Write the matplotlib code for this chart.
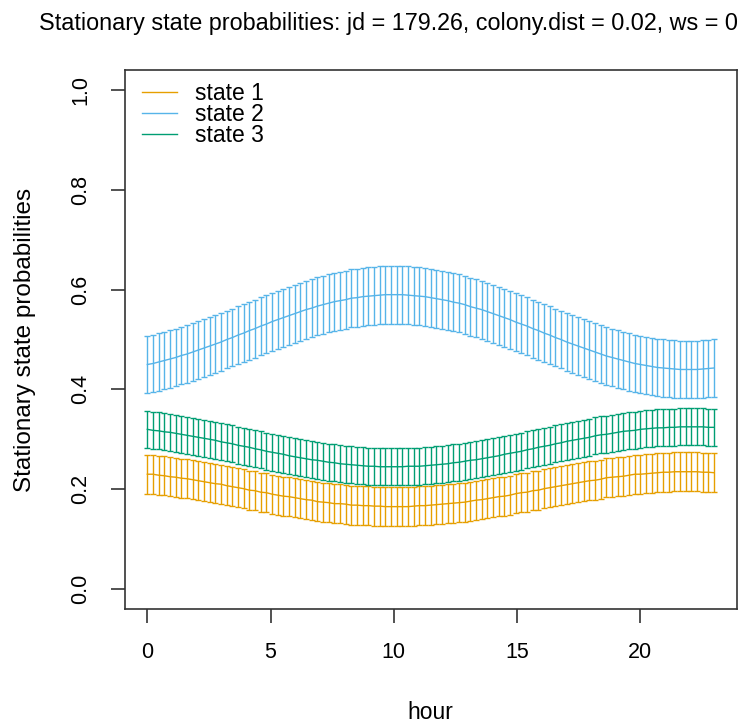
import numpy as np
import matplotlib.pyplot as plt

# covariate grid (101 points over the hour range)
hour = np.linspace(0, 23, 101)

state1 = [0.230, 0.230, 0.228, 0.227, 0.225, 0.224, 0.222, 0.221, 0.219, 0.217,
          0.215, 0.213, 0.211, 0.210, 0.207, 0.205, 0.203, 0.201, 0.198, 0.197,
          0.194, 0.193, 0.190, 0.188, 0.186, 0.185, 0.183, 0.181, 0.179, 0.178,
          0.175, 0.174, 0.173, 0.171, 0.171, 0.170, 0.168, 0.168, 0.167, 0.167,
          0.166, 0.166, 0.165, 0.165, 0.165, 0.165, 0.165, 0.166, 0.167, 0.167,
          0.168, 0.169, 0.170, 0.171, 0.172, 0.173, 0.174, 0.176, 0.178, 0.179,
          0.181, 0.183, 0.185, 0.186, 0.188, 0.191, 0.193, 0.194, 0.197, 0.198,
          0.201, 0.203, 0.205, 0.207, 0.209, 0.211, 0.213, 0.215, 0.217, 0.218,
          0.220, 0.223, 0.224, 0.225, 0.226, 0.228, 0.230, 0.230, 0.231, 0.232,
          0.233, 0.234, 0.234, 0.235, 0.235, 0.235, 0.235, 0.235, 0.234, 0.234,
          0.233]
state2 = [0.450, 0.452, 0.455, 0.458, 0.461, 0.464, 0.468, 0.471, 0.475, 0.479,
          0.483, 0.487, 0.491, 0.495, 0.500, 0.504, 0.509, 0.513, 0.518, 0.522,
          0.527, 0.531, 0.536, 0.540, 0.544, 0.548, 0.552, 0.556, 0.560, 0.563,
          0.567, 0.570, 0.573, 0.576, 0.578, 0.580, 0.583, 0.584, 0.586, 0.587,
          0.588, 0.589, 0.590, 0.590, 0.590, 0.590, 0.589, 0.588, 0.587, 0.586,
          0.584, 0.582, 0.580, 0.578, 0.575, 0.573, 0.570, 0.566, 0.563, 0.560,
          0.556, 0.552, 0.548, 0.544, 0.540, 0.535, 0.531, 0.527, 0.522, 0.518,
          0.513, 0.509, 0.504, 0.500, 0.495, 0.491, 0.487, 0.483, 0.479, 0.475,
          0.471, 0.467, 0.464, 0.461, 0.458, 0.455, 0.452, 0.450, 0.448, 0.446,
          0.444, 0.443, 0.442, 0.441, 0.440, 0.440, 0.440, 0.440, 0.441, 0.442,
          0.443]
state3 = [0.320, 0.318, 0.317, 0.315, 0.314, 0.312, 0.310, 0.308, 0.306, 0.304,
          0.302, 0.300, 0.298, 0.295, 0.293, 0.291, 0.288, 0.286, 0.284, 0.281,
          0.279, 0.276, 0.274, 0.272, 0.270, 0.267, 0.265, 0.263, 0.261, 0.259,
          0.258, 0.256, 0.254, 0.253, 0.251, 0.250, 0.249, 0.248, 0.247, 0.246,
          0.246, 0.245, 0.245, 0.245, 0.245, 0.245, 0.246, 0.246, 0.246, 0.247,
          0.248, 0.249, 0.250, 0.251, 0.253, 0.254, 0.256, 0.258, 0.259, 0.261,
          0.263, 0.265, 0.267, 0.270, 0.272, 0.274, 0.276, 0.279, 0.281, 0.284,
          0.286, 0.288, 0.291, 0.293, 0.296, 0.298, 0.300, 0.302, 0.304, 0.307,
          0.309, 0.310, 0.312, 0.314, 0.316, 0.317, 0.318, 0.320, 0.321, 0.322,
          0.323, 0.323, 0.324, 0.324, 0.325, 0.325, 0.325, 0.325, 0.325, 0.324,
          0.324]

# half width of the 95% intervals
ci_half = [0.039, 0.058, 0.037]

labels = ['state 1', 'state 2', 'state 3']
colors = ['#E69F00', '#56B4E9', '#009E73']

plt.rcParams['font.family'] = ['Liberation Sans', 'DejaVu Sans']

fig = plt.figure(figsize=(7.42, 7.24), dpi=100)
ax = fig.add_axes([0.168, 0.159, 0.825, 0.744])

for vals, hw, lab, col in zip([state1, state2, state3], ci_half, labels, colors):
    vals = np.array(vals)
    ax.plot(hour, vals, color=col, lw=1.0, label=lab)
    ax.errorbar(hour, vals, yerr=hw, fmt='none', ecolor=col, elinewidth=1.0,
                capsize=2.3, capthick=1.0)

ax.set_xlim(-0.92, 23.92)
ax.set_ylim(-0.04, 1.04)
ax.set_xticks([0, 5, 10, 15, 20])
ax.set_yticks([0.0, 0.2, 0.4, 0.6, 0.8, 1.0])
ax.set_yticklabels(['0.0', '0.2', '0.4', '0.6', '0.8', '1.0'], rotation=90, va='center')
ax.tick_params(labelsize=15.5, length=10, width=1.2, color='#333333', pad=14)
for s in ax.spines.values():
    s.set_linewidth(1.2)
    s.set_color('#333333')

ax.set_xlabel('hour', fontsize=16.5, labelpad=27)
ax.set_ylabel('Stationary state probabilities', fontsize=17.5, labelpad=25)
fig.text(0.523, 0.968, 'Stationary state probabilities: jd = 179.26, colony.dist = 0.02, ws = 0',
         ha='center', va='center', fontsize=16.8)

ax.legend(loc='upper left', frameon=False, fontsize=16.5, handlelength=1.55,
          labelspacing=-0.08, borderaxespad=0.0, handletextpad=0.75,
          borderpad=0.0, bbox_to_anchor=(0.028, 0.978))

fig.savefig('out.png', dpi=100)
